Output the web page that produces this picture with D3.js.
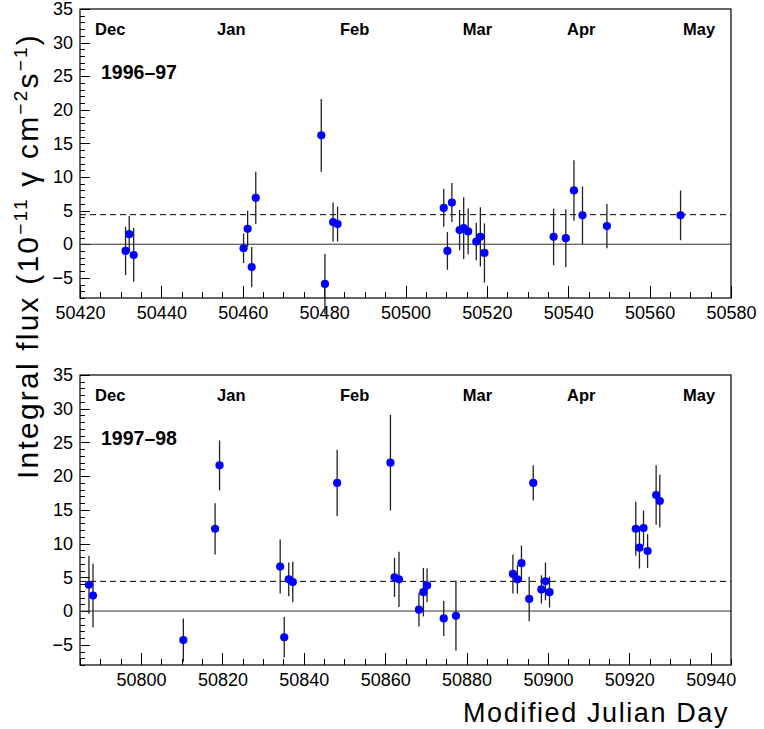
<!DOCTYPE html>
<meta charset="utf-8">
<style>
body { margin: 0; background: #fff; }
svg { display: block; background: #fff; font-family: "Liberation Sans", Arial, sans-serif; }
.tick line { stroke: #000; }
.domain { display: none; }
</style>
<script src="https://d3js.org/d3.v7.min.js"></script>
<svg width="764" height="729"></svg>
<script>

// 1996-97 season
var mjd96  = [50431.2, 50432.1, 50433.2, 50460.2, 50461.2, 50462.2, 50463.2, 50479.3, 50480.2, 50482.2, 50483.3,
              50509.4, 50510.3, 50511.4, 50513.3, 50514.3, 50515.4, 50517.4, 50518.4, 50519.4,
              50536.4, 50539.4, 50541.4, 50543.5, 50549.5, 50567.6];
var flux96 = [-1.0, 1.5, -1.6, -0.6, 2.3, -3.4, 6.9, 16.2, -5.9, 3.3, 3.0,
              5.4, -1.0, 6.2, 2.1, 2.4, 1.9, 0.4, 1.1, -1.3,
              1.1, 0.9, 8.0, 4.3, 2.7, 4.3];
var err96  = [3.6, 2.7, 4.0, 2.2, 2.7, 3.0, 3.9, 5.4, 4.5, 2.9, 2.6,
              2.8, 2.8, 2.9, 3.0, 4.6, 3.4, 2.8, 4.4, 4.4,
              4.2, 4.3, 4.5, 4.3, 3.3, 3.7];

// 1997-98 season
var mjd97  = [50787.2, 50788.2, 50810.4, 50818.2, 50819.3, 50834.2, 50835.2, 50836.3, 50837.3, 50848.2,
              50861.3, 50862.3, 50863.4, 50868.3, 50869.4, 50870.3, 50874.4, 50877.4,
              50891.4, 50892.5, 50893.5, 50895.4, 50896.4, 50898.4, 50899.4, 50900.4,
              50921.6, 50922.5, 50923.5, 50924.5, 50926.6, 50927.5];
var flux97 = [3.9, 2.3, -4.3, 12.2, 21.6, 6.6, -3.9, 4.7, 4.3, 19.0,
              22.0, 5.0, 4.7, 0.2, 2.8, 3.8, -1.1, -0.7,
              5.5, 4.7, 7.1, 1.8, 19.0, 3.2, 4.4, 2.8,
              12.2, 9.4, 12.3, 8.9, 17.2, 16.3];
var err97  = [4.3, 4.7, 3.2, 3.8, 3.7, 4.0, 3.0, 2.5, 3.0, 4.9,
              7.1, 2.9, 4.1, 2.5, 3.6, 2.5, 2.6, 5.2,
              2.9, 2.1, 2.6, 3.3, 2.6, 2.1, 2.8, 2.3,
              4.0, 3.1, 2.6, 2.5, 4.4, 3.9];

var meanFlux = 4.4;

var monthNames = ["Dec", "Jan", "Feb", "Mar", "Apr", "May"];
var monthPos96 = [50423.7, 50453.7, 50483.9, 50514.1, 50539.7, 50568.2];
var monthPos97 = [50788.7, 50818.7, 50848.9, 50879.1, 50904.7, 50933.2];

var yTicks = [-5, 0, 5, 10, 15, 20, 25, 30, 35];

var svg = d3.select("svg");

var left = 80, right = 731;

var panels = [
  {mjd: mjd96, flux: flux96, err: err96, xDomain: [50420, 50580], months: monthPos96,
   season: "1996–97", top: 9, bottom: 298},
  {mjd: mjd97, flux: flux97, err: err97, xDomain: [50785, 50945], months: monthPos97,
   season: "1997–98", top: 375, bottom: 665}
];

panels.forEach(function(p) {
  var x = d3.scaleLinear().domain(p.xDomain).range([left, right]);
  var y = d3.scaleLinear().domain([-8, 35]).range([p.bottom, p.top]);
  var g = svg.append("g");

  // minor ticks
  g.append("g").attr("transform", "translate(" + left + ",0)")
    .call(d3.axisLeft(y).tickValues(d3.range(-8, 36, 1)).tickSize(-5).tickSizeOuter(0).tickFormat(""));
  g.append("g").attr("transform", "translate(0," + p.bottom + ")")
    .call(d3.axisBottom(x).tickValues(d3.range(Math.ceil(p.xDomain[0] / 5) * 5, p.xDomain[1] + 1, 5))
      .tickSize(-6).tickSizeOuter(0).tickFormat(""));

  // major ticks + labels
  var ya = g.append("g").attr("transform", "translate(" + left + ",0)")
    .call(d3.axisLeft(y).tickValues(yTicks).tickSize(-10).tickSizeOuter(0).tickPadding(7));
  ya.selectAll("text").attr("font-size", 18).attr("fill", "#000").attr("font-family", "Liberation Sans");

  var xa = g.append("g").attr("transform", "translate(0," + p.bottom + ")")
    .call(d3.axisBottom(x).tickValues(d3.range(Math.ceil(p.xDomain[0] / 20) * 20, p.xDomain[1] + 1, 20))
      .tickSize(-12).tickSizeOuter(0).tickPadding(8).tickFormat(d3.format("d")));
  xa.selectAll("text").attr("font-size", 18).attr("fill", "#000").attr("font-family", "Liberation Sans");

  g.selectAll(".tick line").attr("shape-rendering", "crispEdges");

  // zero line & mean line
  g.append("line").attr("x1", left).attr("x2", right).attr("y1", y(0)).attr("y2", y(0))
    .attr("stroke", "#333").attr("stroke-width", 1);
  g.append("line").attr("x1", left).attr("x2", right).attr("y1", y(meanFlux)).attr("y2", y(meanFlux))
    .attr("stroke", "#000").attr("stroke-width", 1).attr("stroke-dasharray", "6,4");

  // frame
  g.append("rect").attr("x", left).attr("y", p.top).attr("width", right - left).attr("height", p.bottom - p.top)
    .attr("fill", "none").attr("stroke", "#000").attr("stroke-width", 1.2);

  // error bars
  g.selectAll(".err").data(p.mjd).enter().append("line")
    .attr("x1", function(d) { return x(d); })
    .attr("x2", function(d) { return x(d); })
    .attr("y1", function(d, i) { return y(p.flux[i] - p.err[i]); })
    .attr("y2", function(d, i) { return y(p.flux[i] + p.err[i]); })
    .attr("stroke", "#222").attr("stroke-width", 1.3);

  // points
  g.selectAll(".pt").data(p.mjd).enter().append("circle")
    .attr("cx", function(d) { return x(d); })
    .attr("cy", function(d, i) { return y(p.flux[i]); })
    .attr("r", 4.1)
    .attr("fill", "#0000ff");

  // month labels
  g.selectAll(".month").data(monthNames).enter().append("text")
    .attr("x", function(d, i) { return x(p.months[i]); })
    .attr("y", p.top + 26)
    .attr("font-size", 16.5).attr("font-weight", "bold")
    .text(function(d) { return d; });

  g.append("text").attr("x", x(p.xDomain[0]) + 21).attr("y", p.top + 70)
    .attr("font-size", 19.5).attr("font-weight", "bold")
    .text(p.season);
});

// axis titles
svg.append("text")
  .attr("transform", "translate(38,256) rotate(-90)")
  .attr("text-anchor", "middle")
  .attr("font-size", 30)
  .attr("letter-spacing", 2.2)
  .html('Integral flux (10<tspan dy="-11" font-size="19">−11</tspan><tspan dy="11"> γ cm</tspan><tspan dy="-11" font-size="19">−2</tspan><tspan dy="11">s</tspan><tspan dy="-11" font-size="19">−1</tspan><tspan dy="11">)</tspan>');

svg.append("text")
  .attr("x", 729).attr("y", 722)
  .attr("text-anchor", "end")
  .attr("font-size", 27)
  .attr("letter-spacing", 1.6)
  .text("Modified Julian Day");

</script>
